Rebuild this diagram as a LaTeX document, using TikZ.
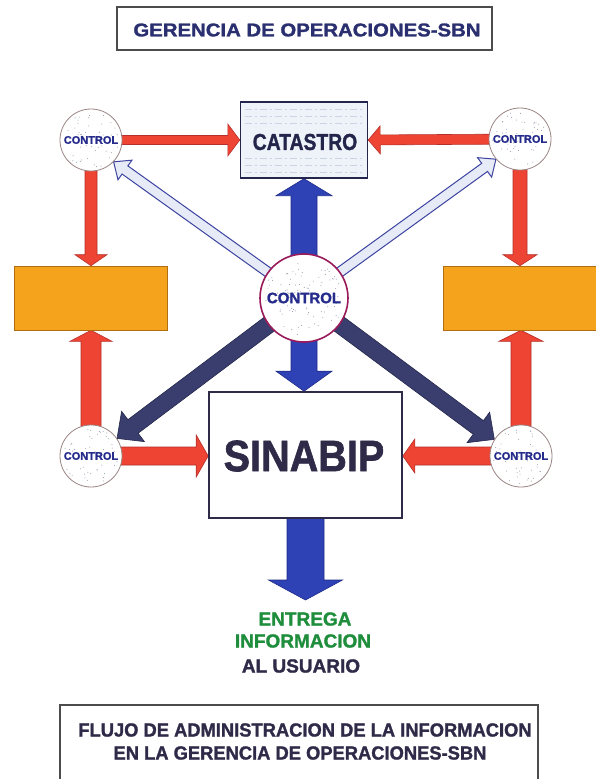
\documentclass[tikz,border=0pt]{standalone}
\usepackage{fontspec}
\setmainfont{Liberation Sans}
\newfontfamily\heavy[FakeBold=1.4]{Liberation Sans}
\usepackage{graphicx}
\usetikzlibrary{calc,backgrounds}
\definecolor{navyT}{HTML}{2A2F70}
\definecolor{navyC}{HTML}{262C8C}
\definecolor{darkT}{HTML}{2E2A48}
\definecolor{greenT}{HTML}{1F8E3C}
\definecolor{redF}{HTML}{EE4433}
\definecolor{redD}{HTML}{B5302A}
\definecolor{blueF}{HTML}{2E41B5}
\definecolor{blueD}{HTML}{1E2C8A}
\definecolor{darkF}{HTML}{3A3E6E}
\definecolor{darkD}{HTML}{23264A}
\definecolor{lightF}{HTML}{E6EBF7}
\definecolor{lightD}{HTML}{3C43A0}
\definecolor{orangeF}{HTML}{F5A21C}
\definecolor{orangeD}{HTML}{B06E10}
\definecolor{ctlB}{HTML}{9A8585}
\definecolor{ccB}{HTML}{9B1B5A}
\definecolor{speck}{HTML}{8E94A8}
\definecolor{catF}{HTML}{EEF3FA}
\definecolor{catL}{HTML}{CBD4E4}
% single block arrow: style, from, to, half shaft, half head, head length
\newcommand\barrow[6]{%
  \coordinate (arrP) at ($(#3)!#6pt!(#2)$);
  \draw[#1] ($(#2)!#4pt!90:(#3)$) -- ($(arrP)!#4pt!90:(#3)$) -- ($(arrP)!#5pt!90:(#3)$)
    -- (#3) -- ($(arrP)!#5pt!-90:(#3)$) -- ($(arrP)!#4pt!-90:(#3)$) -- ($(#2)!#4pt!-90:(#3)$) -- cycle;}
% double block arrow: style, from, to, half shaft, half head, head len at from, head len at to
\newcommand\dbarrow[7]{%
  \coordinate (arrA) at ($(#2)!#6pt!(#3)$);
  \coordinate (arrB) at ($(#3)!#7pt!(#2)$);
  \draw[#1] (#2) -- ($(arrA)!#5pt!90:(#3)$) -- ($(arrA)!#4pt!90:(#3)$) -- ($(arrB)!#4pt!90:(#3)$)
    -- ($(arrB)!#5pt!90:(#3)$) -- (#3) -- ($(arrB)!#5pt!-90:(#3)$) -- ($(arrB)!#4pt!-90:(#3)$)
    -- ($(arrA)!#4pt!-90:(#3)$) -- ($(arrA)!#5pt!-90:(#3)$) -- cycle;}
\newcommand\speckle[3]{%
  \foreach \i in {1,...,#3}{%
    \pgfmathsetmacro\sa{rnd*360}%
    \pgfmathsetmacro\sr{sqrt(rnd)*(#2)}%
    \fill[speck] ($(#1)+(\sa:\sr pt)$) circle (0.5pt);}}
\begin{document}
\begin{tikzpicture}[x=1pt,y=-1pt,
  ctl/.style={circle, minimum size=62pt, inner sep=0pt, fill=white, draw=ctlB, line width=0.8pt},
  ccirc/.style={circle, minimum size=88pt, inner sep=0pt, fill=white, draw=ccB, line width=1.6pt},
  ctltxt/.style={font=\heavy\bfseries\fontsize{11}{11}\selectfont, text=navyC, inner sep=0pt},
  cctxt/.style={font=\heavy\bfseries\fontsize{15}{15}\selectfont, text=navyC, inner sep=0pt},
  orangebox/.style={rectangle, fill=orangeF, draw=orangeD, line width=0.6pt, minimum height=64pt, inner sep=0pt},
  redarr/.style={fill=redF, draw=redD, line width=0.6pt},
  bluearr/.style={fill=blueF, draw=blueD, line width=0.6pt},
  darkarr/.style={fill=darkF, draw=darkD, line width=0.6pt},
  lightarr/.style={fill=lightF, draw=lightD, line width=1pt},
  greentxt/.style={font=\heavy\bfseries\fontsize{19}{19}\selectfont, text=greenT, inner sep=0pt},
  bottxt/.style={font=\heavy\bfseries\fontsize{19}{19}\selectfont, text=darkT, inner sep=0pt}]
\useasboundingbox (0,0) rectangle (595,779);
\pgfmathsetseed{7}

% title
\node[draw=gray!60!black, line width=1.2pt, fill=white, minimum width=375pt, minimum height=43pt, inner sep=0pt]
  (title) at (304.5,28.5) {};
\node[font=\heavy\bfseries\fontsize{18.5}{18.5}\selectfont, text=navyT, inner sep=0pt] (titletxt) at (307,30)
  {\scalebox{1.1}[1]{GERENCIA DE OPERACIONES-SBN}};

% boxes
\node[rectangle, fill=catF, draw=darkD, line width=1.4pt, minimum width=127pt, minimum height=76pt, inner sep=0pt]
  (cat) at (304,140) {};
\foreach \yy in {109,116,123,158,165,172}{
  \draw[catL, line width=0.4pt, dash pattern=on 7pt off 3pt on 2pt off 3pt] ($(cat.west)+(5,\yy-140)$) -- ($(cat.east)+(-5,\yy-140)$);}
\node[font=\heavy\bfseries\fontsize{23}{23}\selectfont, text=darkD, inner sep=0pt] (cattxt) at (305,142)
  {\scalebox{0.84}[1]{CATASTRO}};

\node[rectangle, fill=white, draw=darkT, line width=1.6pt, minimum width=193pt, minimum height=126pt, inner sep=0pt]
  (sin) at (305.5,455) {};
\node[font=\heavy\bfseries\fontsize{44}{44}\selectfont, text=darkT, inner sep=0pt] (sintxt) at (304,456)
  {\scalebox{0.9}[1]{SINABIP}};

\node[orangebox, minimum width=153pt] (ol) at (90.5,298) {};
\node[orangebox, minimum width=154pt] (or) at (520,298) {};

% control circles
\node[ctl] (tl) at (91,140) {};
\node[ctl] (tr) at (520,139) {};
\node[ctl] (bl) at (91,456) {};
\node[ctl] (br) at (521,456) {};
\node[ccirc] (cc) at (304,298) {};
\speckle{tl}{28}{45}
\speckle{tr}{28}{45}
\speckle{bl}{28}{45}
\speckle{br}{28}{45}
\speckle{cc}{40}{90}
\node[ctltxt] (tlt) at (tl) {CONTROL};
\node[ctltxt] (trt) at (tr) {CONTROL};
\node[ctltxt] (blt) at (bl) {CONTROL};
\node[ctltxt] (brt) at (br) {CONTROL};
\node[cctxt] (cct) at (cc) {CONTROL};

% helper coordinates
\coordinate (tlo) at (tl |- ol.north);
\coordinate (tro) at (tr |- or.north);
\coordinate (blo) at (bl |- ol.south);
\coordinate (bro) at (br |- or.south);
\coordinate (bls) at (sin.west |- bl);
\coordinate (brs) at (sin.east |- br);
\coordinate (vt) at (cc |- cat.south);
\coordinate (vb) at (cc |- sin.north);
\coordinate (dtip) at ($(sin.center)+(0,145)$);

% arrows behind
\begin{pgfonlayer}{background}
\fill[white] (0,0) rectangle (595,779);
\barrow{lightarr}{cc.center}{tl.-44}{5}{12}{14}
\barrow{lightarr}{cc.center}{tr.-140}{5}{12}{14}
\barrow{darkarr}{cc.center}{bl.34}{8.5}{19}{20}
\barrow{darkarr}{cc.center}{br.148}{8.5}{19}{20}
\dbarrow{bluearr}{vt}{vb}{13}{28}{17}{20}
\barrow{bluearr}{sin.center}{dtip}{18.5}{37}{20}
\barrow{redarr}{tl.center}{cat.west}{4.5}{16}{12}
\barrow{redarr}{tr.center}{cat.east}{5}{14}{12}
\barrow{redarr}{tl.center}{tlo}{6}{16}{11}
\barrow{redarr}{tr.center}{tro}{7}{17}{11}
\barrow{redarr}{bl.center}{blo}{10}{21}{11}
\barrow{redarr}{br.center}{bro}{10}{22}{11}
\barrow{redarr}{bl.center}{bls}{9}{21}{12}
\barrow{redarr}{br.center}{brs}{9}{17}{12}
\end{pgfonlayer}

% output text
\node[greentxt] (g1) at (305,619) {ENTREGA};
\node[greentxt] (g2) at (303,641) {INFORMACION};
\node[bottxt] (g3) at (301,666) {AL USUARIO};

% bottom box
\draw[gray!60!black, line width=1.2pt] (60,782) -- (60,705) -- (538,705) -- (538,782);
\node[bottxt] (b1) at (305,730) {\scalebox{0.965}[1]{FLUJO DE ADMINISTRACION DE LA INFORMACION}};
\node[bottxt] (b2) at (300,753) {\scalebox{0.965}[1]{EN LA GERENCIA DE OPERACIONES-SBN}};
\end{tikzpicture}
\end{document}
